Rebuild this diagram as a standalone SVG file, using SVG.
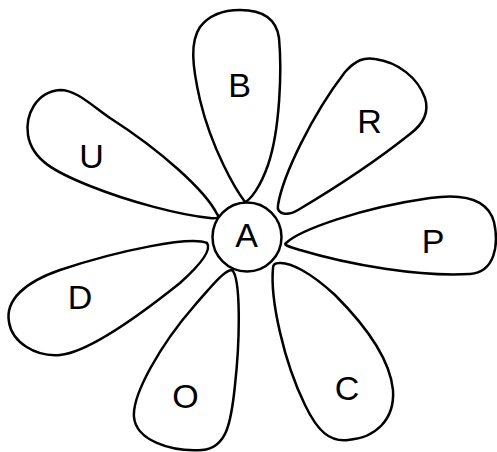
<svg xmlns="http://www.w3.org/2000/svg" width="497" height="452" viewBox="0 0 497 452">
<style>
.p{fill:#fff;stroke:#000;stroke-width:2.5;stroke-linejoin:round}
.t{font-family:"Liberation Sans",Arial,sans-serif;font-size:34px;fill:#000;text-anchor:middle}
</style>
<rect width="497" height="452" fill="#fff"/>
<g id="connectors"/>
<g id="B">
<path class="p" d="M245,202 C236,190 212,150 200,100 C192,65 190,42 200,27 C210,14 225,10 240,10 C258,10 276,16 279,38 C282,70 280,130 268,165 C260,188 250,200 245,202 Z"/>
<text class="t" x="239.5" y="97">B</text>
</g>
<g id="R">
<path class="p" d="M278,205 C283,175 312,115 345,72 C356,60 364,57 375,59 C398,62 418,78 425,98 C430,114 422,125 410,134 C380,158 335,188 298,210 C288,216 276,215 278,205 Z"/>
<text class="t" x="369.5" y="133">R</text>
</g>
<g id="P">
<path class="p" d="M286,243 C300,230 360,208 430,198 C465,193 488,200 494,222 C499,245 495,272 470,274 C420,277 350,265 300,250 C290,247 283,245 286,243 Z"/>
<text class="t" x="433" y="253">P</text>
</g>
<g id="C">
<path class="p" d="M273,268 C270,300 284,362 305,405 C318,432 330,442 348,440 C375,438 395,420 393,390 C390,360 368,328 335,295 C310,272 290,262 279,263 C275,263 273,265 273,268 Z"/>
<text class="t" x="347" y="400">C</text>
</g>
<g id="O">
<path class="p" d="M232,270 C241,278 240,340 235,385 C231,425 226,448 202,450 C170,452 136,440 134,417 C132,395 160,345 195,305 C210,288 224,270 232,270 Z"/>
<text class="t" x="185.5" y="408">O</text>
</g>
<g id="D">
<path class="p" d="M207,243 C190,236 120,250 60,270 C25,282 5,300 9,322 C12,342 35,357 60,355 C90,352 140,315 180,283 C200,265 212,250 207,243 Z"/>
<text class="t" x="80" y="309">D</text>
</g>
<g id="U">
<path class="p" d="M217,214 C205,190 160,150 110,118 C90,104 76,90 60,90 C36,92 25,115 28,135 C32,160 55,172 90,186 C130,202 180,215 210,218 C218,219 220,217 217,214 Z"/>
<text class="t" x="91.5" y="168">U</text>
</g>
<g id="A">
<circle class="p" cx="247" cy="237" r="34.5"/>
<text class="t" x="246.5" y="247">A</text>
</g>
</svg>
